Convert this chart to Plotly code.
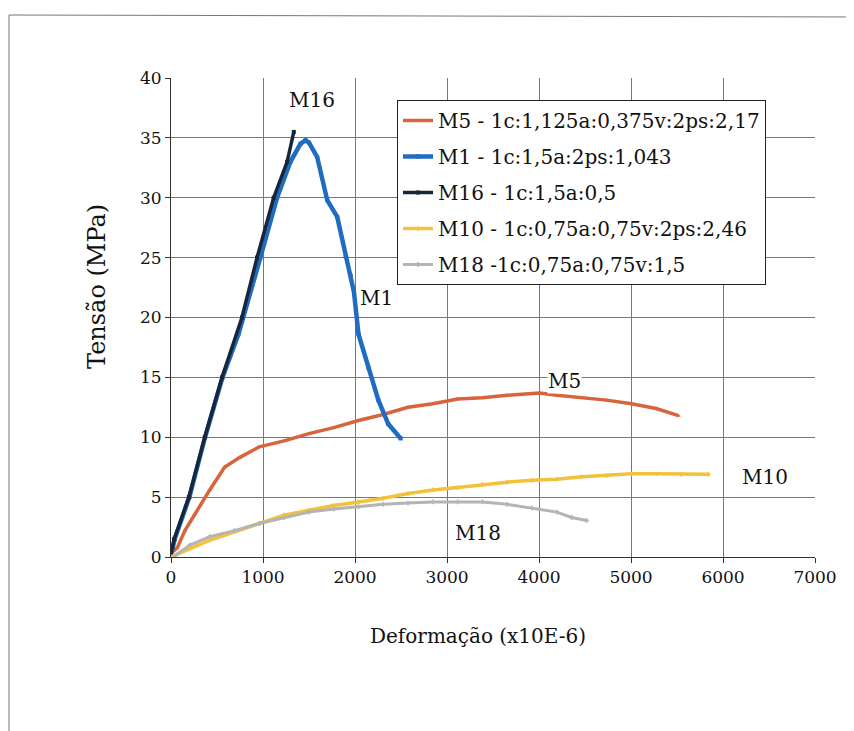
import plotly.graph_objects as go

# ---- data ----
m5_x = [0, 70, 151, 259, 421, 582, 744, 960, 1230, 1499, 1769, 2038, 2306, 2576, 2846, 3115, 3385, 3655, 4006, 4194, 4465, 4734, 5004, 5273, 5516]
m5_y = [0.3, 0.8, 2.2, 3.6, 5.6, 7.5, 8.3, 9.2, 9.7, 10.3, 10.8, 11.4, 11.9, 12.5, 12.8, 13.2, 13.3, 13.5, 13.7, 13.5, 13.3, 13.1, 12.8, 12.4, 11.8]

m1_x = [10, 40, 200, 370, 560, 733, 971, 1153, 1298, 1407, 1462, 1500, 1589, 1698, 1807, 1898, 1953, 1989, 2038, 2146, 2254, 2362, 2497]
m1_y = [0.5, 1.5, 5.0, 10.0, 15.0, 18.6, 25.0, 30.0, 33.0, 34.5, 34.8, 34.6, 33.4, 29.8, 28.4, 25.1, 23.5, 22.1, 18.6, 15.8, 13.1, 11.1, 9.9]

m16_x = [0, 35, 194, 367, 555, 771, 935, 1116, 1262, 1335]
m16_y = [0.3, 1.5, 5.0, 10.0, 15.0, 20.0, 25.0, 30.0, 33.0, 35.5]

m10_x = [0, 421, 960, 1230, 1499, 1769, 2038, 2306, 2576, 2846, 3115, 3385, 3655, 3925, 4194, 4465, 4734, 5004, 5273, 5543, 5840]
m10_y = [0.0, 1.4, 2.8, 3.5, 3.9, 4.3, 4.6, 4.9, 5.3, 5.6, 5.8, 6.05, 6.25, 6.4, 6.5, 6.7, 6.8, 6.95, 6.95, 6.9, 6.9]

m18_x = [43, 205, 421, 690, 960, 1230, 1499, 1769, 2038, 2306, 2576, 2846, 3115, 3385, 3655, 3925, 4194, 4356, 4518]
m18_y = [0.1, 1.0, 1.7, 2.2, 2.8, 3.3, 3.75, 4.0, 4.2, 4.4, 4.5, 4.6, 4.6, 4.6, 4.4, 4.1, 3.75, 3.3, 3.05]

series_names = [
    "M5 - 1c:1,125a:0,375v:2ps:2,17",
    "M1 - 1c:1,5a:2ps:1,043",
    "M16 - 1c:1,5a:0,5",
    "M10 - 1c:0,75a:0,75v:2ps:2,46",
    "M18 -1c:0,75a:0,75v:1,5",
]
series_colors = ["#d8643c", "#1f6cc0", "#18263a", "#f2c23a", "#b4b4b4"]
series_symbols = ["triangle-up", "square", "square", "diamond", "cross"]
series_widths = [3.5, 4.5, 3.5, 3.5, 3]

label_text = ["M16", "M1", "M5", "M10", "M18"]
label_x = [1530, 2230, 4280, 6460, 3340]
label_y = [38.2, 21.6, 14.7, 6.7, 2.0]

x_ticks = [0, 1000, 2000, 3000, 4000, 5000, 6000, 7000]
y_ticks = [0, 5, 10, 15, 20, 25, 30, 35, 40]

FONT = "DejaVu Serif"

# plot area in page pixels (page has an 8px body margin)
L, T, W, H = 163, 70, 644, 479
X0, Y0 = 171, 557  # screen position of the plot-area origin


def px(x):
    return (x - X0) / W


def py(y):
    return (Y0 - y) / H


fig = go.Figure()
data = [(m5_x, m5_y), (m1_x, m1_y), (m16_x, m16_y), (m10_x, m10_y), (m18_x, m18_y)]
for i, ((xs, ys), name) in enumerate(zip(data, series_names)):
    fig.add_trace(go.Scatter(
        x=xs, y=ys, name=name, mode="lines+markers",
        line=dict(color=series_colors[i], width=series_widths[i]),
        marker=dict(color=series_colors[i], size=4, symbol=series_symbols[i]),
        legendgroup=f"g{i}",
    ))

for t, lx, ly in zip(label_text, label_x, label_y):
    fig.add_annotation(x=lx, y=ly, text=t, showarrow=False,
                       font=dict(family=FONT, size=20, color="#111"),
                       bgcolor="white", borderpad=0)

# axis titles
fig.add_annotation(xref="paper", yref="paper", x=px(478), y=py(636),
                   xanchor="center", yanchor="middle",
                   text="Deformação (x10E-6)", showarrow=False,
                   font=dict(family=FONT, size=20, color="#111"))
fig.add_annotation(xref="paper", yref="paper", x=px(97), y=py(287),
                   xanchor="center", yanchor="middle",
                   text="Tensão (MPa)", showarrow=False, textangle=-90,
                   font=dict(family=FONT, size=24, color="#111"))

# outer frame lines (left and top)
fig.add_shape(type="line", xref="paper", yref="paper",
              x0=px(9), x1=px(9), y0=py(740), y1=py(15),
              line=dict(color="#777", width=1))
fig.add_shape(type="line", xref="paper", yref="paper",
              x0=px(9), x1=px(860), y0=py(15), y1=py(17),
              line=dict(color="#777", width=1))

fig.update_layout(
    width=854, height=731,
    margin=dict(l=L, r=854 - L - W, t=T, b=731 - T - H),
    paper_bgcolor="white", plot_bgcolor="white",
    font=dict(family=FONT, size=17, color="#111"),
    showlegend=True,
    legend=dict(
        x=px(397), y=py(100), xanchor="left", yanchor="top",
        bgcolor="white", bordercolor="#222", borderwidth=1,
        font=dict(family=FONT, size=20, color="#111"),
        tracegroupgap=7, traceorder="grouped",
    ),
    xaxis=dict(
        range=[0, 7000], tickvals=x_ticks, ticktext=[str(v) for v in x_ticks],
        showgrid=True, gridcolor="#777", gridwidth=1,
        showline=True, linecolor="#333", linewidth=1,
        ticks="outside", ticklen=5, tickcolor="#333",
        zeroline=False,
        tickfont=dict(family=FONT, size=17),
    ),
    yaxis=dict(
        range=[0, 40], tickvals=y_ticks,
        showgrid=True, gridcolor="#777", gridwidth=1,
        showline=True, linecolor="#333", linewidth=1,
        ticks="outside", ticklen=5, tickcolor="#333",
        zeroline=False,
        tickfont=dict(family=FONT, size=17),
    ),
)

fig.write_html("out.html")
